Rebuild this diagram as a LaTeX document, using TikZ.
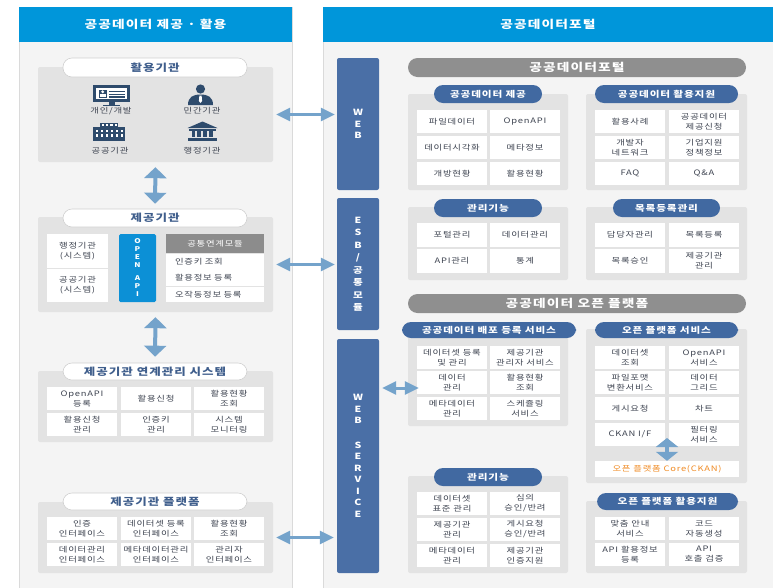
\documentclass[tikz,border=0pt]{standalone}
\usepackage{fontspec}
\setmainfont[FakeStretch=1.25,LetterSpace=10]{Noto Sans CJK KR}
\usetikzlibrary{arrows.meta}
\definecolor{hdrblue}{HTML}{0096DA}
\definecolor{panelbg}{HTML}{F4F4F4}
\definecolor{panelline}{HTML}{DADADA}
\definecolor{grpgray}{HTML}{E3E3E3}
\definecolor{pillgray}{HTML}{8F8F8F}
\definecolor{pillblue}{HTML}{4169A1}
\definecolor{colblue}{HTML}{4A6FA6}
\definecolor{apiblue}{HTML}{0C90D6}
\definecolor{arrowc}{HTML}{74A3CB}
\definecolor{celltext}{HTML}{3D4350}
\definecolor{pilltext}{HTML}{3F5E8C}
\definecolor{modgray}{HTML}{8C8C8C}
\definecolor{iconc}{HTML}{2E4B6C}
\definecolor{coreorange}{HTML}{F08A22}
\definecolor{pillline}{HTML}{D0D0D0}
\newcommand\bx[6][]{\node[#1, minimum width={(#4)-(#2)}, minimum height={(#5)-(#3)}] (#6) at ({((#2)+(#4))/2},{((#3)+(#5))/2})}
\tikzset{
  panel/.style={fill=panelbg, draw=panelline, line width=0.8pt, inner sep=0pt},
  hdr/.style={fill=hdrblue, text=white, font=\bfseries\fontsize{11}{13}\selectfont, inner sep=0pt},
  grp/.style={fill=grpgray, rounded corners=2pt, inner sep=0pt},
  pillw/.style={fill=white, draw=pillline, line width=0.6pt, rounded corners=9pt, text=pilltext, font=\bfseries\fontsize{10}{11}\selectfont, inner sep=0pt},
  pillb/.style={fill=pillblue, rounded corners=9pt, text=white, font=\bfseries\fontsize{8.5}{10}\selectfont, inner sep=0pt},
  pillg/.style={fill=pillgray, rounded corners=9.5pt, text=white, font=\bfseries\fontsize{11}{12}\selectfont, inner sep=0pt},
  cell/.style={fill=white, text=celltext, font=\fontsize{7.5}{10}\selectfont, align=center, inner sep=0pt},
  modhead/.style={fill=modgray, text=white, font=\fontsize{7.5}{10}\selectfont, inner sep=0pt},
  modrow/.style={cell, text width=80pt, align=left},
  colbox/.style={fill=colblue, rounded corners=2pt, text=white, font=\bfseries\fontsize{8.5}{11.5}\selectfont, align=center, inner sep=0pt},
  apibox/.style={fill=apiblue, rounded corners=1.5pt, text=white, font=\bfseries\fontsize{6.5}{8}\selectfont, align=center, inner sep=0pt},
  lbl/.style={text=celltext, font=\fontsize{7.5}{9}\selectfont, inner sep=0pt},
  harr/.style={draw=arrowc, line width=3pt, {Triangle[width=13pt,length=14pt]}-{Triangle[width=13pt,length=14pt]}},
  varr/.style={draw=arrowc, line width=4pt, {Triangle[width=22pt,length=11pt]}-{Triangle[width=22pt,length=11pt]}},
  sarr/.style={draw=arrowc, line width=4pt, {Triangle[width=22pt,length=9pt]}-{Triangle[width=22pt,length=9pt]}},
}
\begin{document}
\begin{tikzpicture}[x=1pt,y=-1pt]
\useasboundingbox (0,0) rectangle (773,587);
% panels
\bx[panel]{19}{7}{292}{595}{lpanel} {};
\bx[panel]{323}{7}{785}{595}{rpanel} {};
\bx[hdr]{19}{7}{292}{42}{lhdr} {공공데이터 제공 · 활용};
\bx[hdr]{323}{7}{773}{42}{rhdr} {공공데이터포털};

% ===== left: 활용기관
\bx[grp]{38}{67}{273}{162}{g1} {};
\bx[pillw]{63}{58}{247}{77}{p1} {활용기관};
% computer icon
\fill[iconc] (93,85) rectangle (130,102);
\fill[white] (96,88) rectangle (127,99);
\fill[iconc] (98.5,89.5) rectangle (107,97.5);
\fill[white] (102.7,91.8) circle (1.6);
\fill[white] (99.8,96.5) rectangle (105.6,94.3);
\foreach \yy in {90.5,93.5,96.3} \fill[iconc] (109,\yy) rectangle (124.5,\yy+1.4);
\fill[iconc] (108.5,102) rectangle (114.5,104.5);
\fill[iconc] (103,104.5) rectangle (120,106.3);
% person icon
\fill[iconc] (200.5,89) circle (4.6);
\fill[iconc] (188,105) .. controls (188,97) and (193,94.5) .. (200.5,94.5) .. controls (208,94.5) and (213,97) .. (213,105) -- cycle;
\fill[white] (199.4,95.5) -- (201.6,95.5) -- (202.1,101) -- (200.5,103) -- (198.9,101) -- cycle;
% office building icon
\fill[iconc] (100,122.5) rectangle (118,128);
\fill[iconc] (93,127) rectangle (125,141);
\foreach \xx in {102,106.2,110.4,114.6} \fill[white] (\xx,124.2) rectangle (\xx+2.2,126.2);
\foreach \yy in {129.5,134} \foreach \xx in {96,101,106,111,116,121} \fill[white] (\xx,\yy) rectangle (\xx+2.4,\yy+2.5);
% government icon
\fill[iconc] (187.5,128) -- (202.5,121.5) -- (217.5,128) -- cycle;
\fill[iconc] (189,128.5) rectangle (216,130.5);
\foreach \xx in {191.5,197.3,203.1,208.9} \fill[iconc] (\xx,131) rectangle (\xx+3.6,137.2);
\fill[iconc] (188,137.5) rectangle (217,140.5);
\node[lbl] (l1) at (111,111) {개인/개발};
\node[lbl] (l2) at (202,111) {민간기관};
\node[lbl] (l3) at (110,151) {공공기관};
\node[lbl] (l4) at (202,151) {행정기관};

% ===== left: 제공기관
\bx[grp]{38}{217}{273}{312}{g2} {};
\bx[pillw]{63}{209}{247}{227}{p2} {제공기관};
\bx[cell]{47}{234}{108}{268}{s1} {행정기관\\(시스템)};
\bx[cell]{47}{269}{108}{302}{s2} {공공기관\\(시스템)};
\bx[apibox]{119}{234}{156}{302}{oapi} {O\\P\\E\\N\\[5pt]A\\P\\I};
\bx[modhead]{166}{234}{264}{253}{mh} {공통연계모듈};
\bx[modrow]{166}{253.8}{264}{269.5}{m1} {인증키 조회};
\bx[modrow]{166}{270.3}{264}{285.8}{m2} {활용정보 등록};
\bx[modrow]{166}{286.6}{264}{302}{m3} {오작동정보 등록};

% ===== left: 제공기관 연계관리 시스템
\bx[grp]{38}{371}{273}{442}{g3} {};
\bx[pillw]{63}{363}{247}{380}{p3} {제공기관 연계관리 시스템};
\bx[cell]{47}{387}{117}{410}{k11} {OpenAPI\\등록};
\bx[cell]{121}{387}{191}{410}{k12} {활용신청};
\bx[cell]{194}{387}{264}{410}{k13} {활용현황\\조회};
\bx[cell]{47}{413}{117}{436}{k21} {활용신청\\관리};
\bx[cell]{121}{413}{191}{436}{k22} {인증키\\관리};
\bx[cell]{194}{413}{264}{436}{k23} {시스템\\모니터링};

% ===== left: 제공기관 플랫폼
\bx[grp]{38}{502}{273}{573}{g4} {};
\bx[pillw]{63}{493}{247}{510}{p4} {제공기관 플랫폼};
\bx[cell]{47}{517}{117}{540}{f11} {인증\\인터페이스};
\bx[cell]{121}{517}{191}{540}{f12} {데이터셋 등록\\인터페이스};
\bx[cell]{194}{517}{264}{540}{f13} {활용현황\\조회};
\bx[cell]{47}{543}{117}{566}{f21} {데이터관리\\인터페이스};
\bx[cell]{121}{543}{191}{566}{f22} {메타데이터관리\\인터페이스};
\bx[cell]{194}{543}{264}{566}{f23} {관리자\\인터페이스};

% ===== right columns
\bx[colbox]{337}{58}{379}{190}{web} {W\\E\\B};
\bx[colbox, font=\bfseries\fontsize{8.5}{12.5}\selectfont]{337}{198}{379}{330}{esb} {E\\S\\B\\/\\공\\통\\모\\듈};
\bx[colbox]{337}{339}{379}{573}{ws} {W\\E\\B\\[13pt]S\\E\\R\\V\\I\\C\\E};

\bx[pillg]{408}{58}{746}{77}{portal} {공공데이터포털};
% A
\bx[grp]{408}{94}{568}{190}{ga} {};
\bx[pillb]{434}{85}{542}{103}{pa} {공공데이터 제공};
\bx[cell]{417}{110}{487}{133}{a11} {파일데이터};
\bx[cell]{490}{110}{560}{133}{a12} {OpenAPI};
\bx[cell]{417}{136}{487}{159}{a21} {데이터시각화};
\bx[cell]{490}{136}{560}{159}{a22} {메타정보};
\bx[cell]{417}{162}{487}{185}{a31} {개방현황};
\bx[cell]{490}{162}{560}{185}{a32} {활용현황};
% B
\bx[grp]{586}{94}{747}{190}{gb} {};
\bx[pillb]{595}{85}{738}{103}{pb} {공공데이터 활용지원};
\bx[cell]{595}{110}{665}{133}{b11} {활용사례};
\bx[cell]{669}{110}{739}{133}{b12} {공공데이터\\제공신청};
\bx[cell]{595}{136}{665}{159}{b21} {개발자\\네트워크};
\bx[cell]{669}{136}{739}{159}{b22} {기업지원\\정책정보};
\bx[cell]{595}{162}{665}{185}{b31} {FAQ};
\bx[cell]{669}{162}{739}{185}{b32} {Q\&A};
% C
\bx[grp]{408}{207}{568}{280}{gc} {};
\bx[pillb]{434}{199}{542}{217}{pc} {관리기능};
\bx[cell]{417}{223}{487}{247}{c11} {포털관리};
\bx[cell]{490}{223}{560}{247}{c12} {데이터관리};
\bx[cell]{417}{249}{487}{273}{c21} {API관리};
\bx[cell]{490}{249}{560}{273}{c22} {통계};
% D
\bx[grp]{586}{207}{747}{280}{gd} {};
\bx[pillb]{613}{199}{720}{217}{pd} {목록등록관리};
\bx[cell]{595}{223}{665}{247}{d11} {담당자관리};
\bx[cell]{669}{223}{739}{247}{d12} {목록등록};
\bx[cell]{595}{249}{665}{273}{d21} {목록승인};
\bx[cell]{669}{249}{739}{273}{d22} {제공기관\\관리};

\bx[pillg]{408}{294}{746}{313}{open} {공공데이터 오픈 플랫폼};
% E
\bx[grp]{408}{329}{568}{426}{ge} {};
\bx[pillb]{402}{322}{576}{338}{pe} {공공데이터 배포 등록 서비스};
\bx[cell]{417}{346}{487}{369}{e11} {데이터셋 등록\\및 관리};
\bx[cell]{490}{346}{560}{369}{e12} {제공기관\\관리자 서비스};
\bx[cell]{417}{371}{487}{394}{e21} {데이터\\관리};
\bx[cell]{490}{371}{560}{394}{e22} {활용현황\\조회};
\bx[cell]{417}{397}{487}{420}{e31} {메타데이터\\관리};
\bx[cell]{490}{397}{560}{420}{e32} {스케쥴링\\서비스};
% F
\bx[grp]{586}{329}{747}{483}{gf} {};
\bx[pillb]{595}{322}{738}{338}{pf} {오픈 플랫폼 서비스};
\bx[cell]{595}{346}{665}{369}{f1a} {데이터셋\\조회};
\bx[cell]{669}{346}{739}{369}{f1b} {OpenAPI\\서비스};
\bx[cell]{595}{371}{665}{394}{f2a} {파일포맷\\변환서비스};
\bx[cell]{669}{371}{739}{394}{f2b} {데이터\\그리드};
\bx[cell]{595}{397}{665}{420}{f3a} {게시요청};
\bx[cell]{669}{397}{739}{420}{f3b} {차트};
\bx[cell]{595}{423}{665}{446}{f4a} {CKAN I/F};
\bx[cell]{669}{423}{739}{446}{f4b} {필터링\\서비스};
\bx[cell, text=coreorange]{595}{461}{739}{477}{core} {오픈 플랫폼 Core(CKAN)};
% G
\bx[grp]{408}{476}{568}{573}{gg} {};
\bx[pillb]{434}{468}{542}{486}{pg} {관리기능};
\bx[cell]{417}{492}{487}{515}{g11} {데이터셋\\표준 관리};
\bx[cell]{490}{492}{560}{515}{g12} {심의\\승인/반려};
\bx[cell]{417}{518}{487}{541}{g21} {제공기관\\관리};
\bx[cell]{490}{518}{560}{541}{g22} {게시요청\\승인/반려};
\bx[cell]{417}{544}{487}{567}{g31} {메타데이터\\관리};
\bx[cell]{490}{544}{560}{567}{g32} {제공기관\\인증지원};
% H
\bx[grp]{586}{501}{747}{573}{gh} {};
\bx[pillb]{597}{493}{738}{510}{ph} {오픈 플랫폼 활용지원};
\bx[cell]{595}{517}{665}{540}{h11} {맞춤 안내\\서비스};
\bx[cell]{669}{517}{739}{540}{h12} {코드\\자동생성};
\bx[cell]{595}{543}{665}{566}{h21} {API 활용정보\\등록};
\bx[cell]{669}{543}{739}{566}{h22} {API\\호출 검증};

% ===== arrows
\draw[harr, shorten <=3pt, shorten >=2pt] (g1.east) -- (g1.east -| web.west);
\draw[harr, shorten <=3pt, shorten >=2pt] (g2.east) -- (g2.east -| esb.west);
\draw[harr, shorten <=3pt, shorten >=3pt] (g4.east) -- (g4.east -| ws.west);
\draw[varr, shorten <=5pt, shorten >=5pt] (g1.south) -- (p2.north);
\draw[varr, shorten <=5pt, shorten >=6pt] (g2.south) -- (p3.north);
\path ([yshift=-5.5pt]e21.west) coordinate (ea);
\draw[harr, shorten <=3pt, shorten >=-2pt] (ws.east |- ea) -- (ea);
\path ([yshift=-3.5pt]f4a.east) coordinate (ck);
\draw[sarr] (ck -| core.north) -- (core.north);
\end{tikzpicture}
\end{document}
